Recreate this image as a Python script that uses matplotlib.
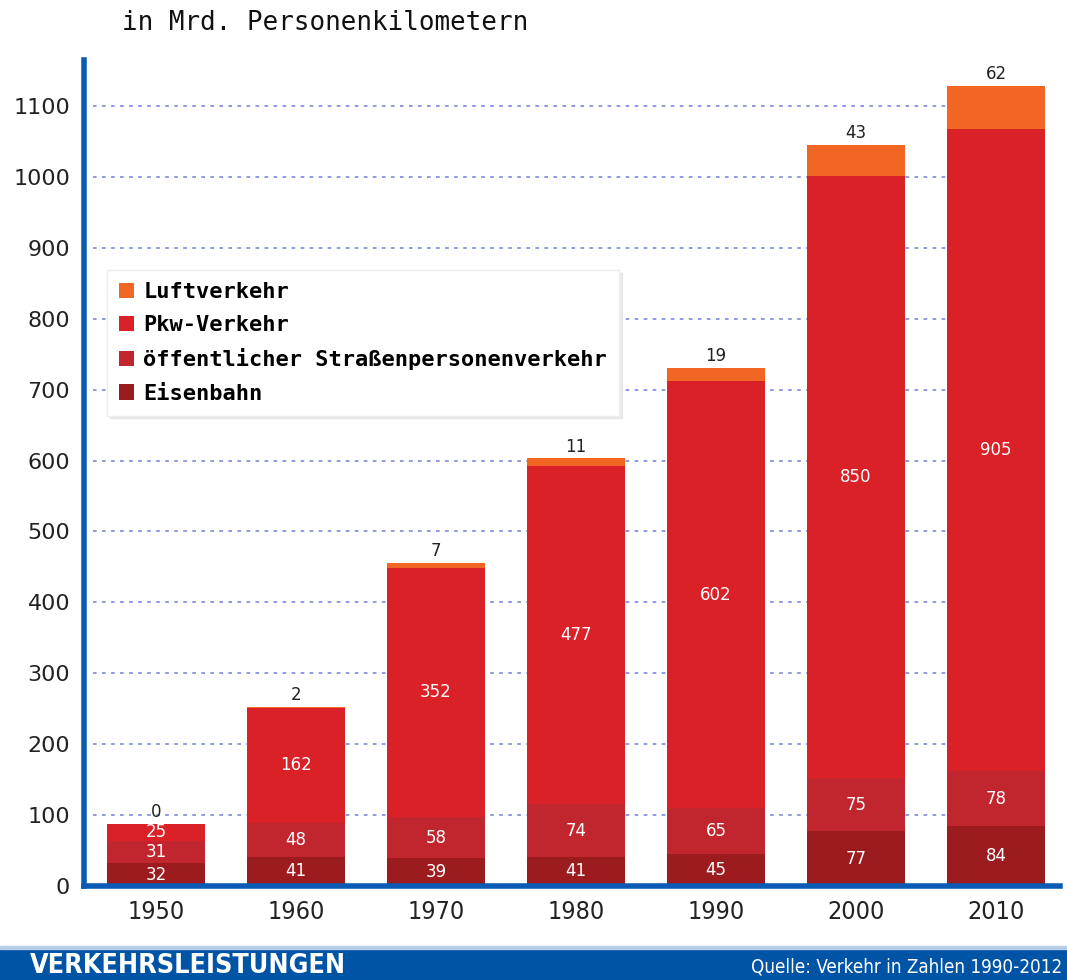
import matplotlib
matplotlib.use("Agg")
import matplotlib.pyplot as plt
from matplotlib.patches import Rectangle
import numpy as np

years = ["1950", "1960", "1970", "1980", "1990", "2000", "2010"]
eisenbahn = [32, 41, 39, 41, 45, 77, 84]
oespv = [31, 48, 58, 74, 65, 75, 78]
pkw = [25, 162, 352, 477, 602, 850, 905]
luft = [0, 2, 7, 11, 19, 43, 62]
series_names = ["Eisenbahn", "öffentlicher Straßenpersonenverkehr", "Pkw-Verkehr", "Luftverkehr"]
colors = ["#9b1b1f", "#c1262e", "#da2128", "#f26624"]
yticks = [0, 100, 200, 300, 400, 500, 600, 700, 800, 900, 1000, 1100]

W, H = 1067, 980
fig = plt.figure(figsize=(W / 100, H / 100), dpi=100)
ax = fig.add_axes([84 / W, (980 - 886) / H, (1060 - 84) / W, (886 - 60) / H])

x = np.arange(len(years))
width = 0.7
bottom = np.zeros(len(years))
bars = []
data = [eisenbahn, oespv, pkw, luft]
for i, (vals, col) in enumerate(zip(data, colors)):
    b = ax.bar(x, vals, width, bottom=bottom, color=col, zorder=2, label=series_names[i])
    bars.append(b)
    for xi, v, bt in zip(x, vals, bottom):
        if i < 3:
            ax.text(xi, bt + v / 2, str(v), ha="center", va="center", color="white",
                    fontsize=12, zorder=3)
        else:
            ax.text(xi, bt + v + 4, str(v), ha="center", va="bottom", color="#222222",
                    fontsize=12, zorder=3)
    bottom = bottom + np.array(vals)

ax.set_xlim(-0.514, 6.457)
ax.set_ylim(0, 1165)
ax.set_yticks(yticks)
ax.set_yticklabels([str(t) for t in yticks])
ax.set_xticks(x)
ax.set_xticklabels(years)
ax.tick_params(axis="both", length=0, labelsize=16, colors="#222222")
ax.tick_params(axis="y", pad=10)
ax.tick_params(axis="x", pad=10)
for lab in ax.get_xticklabels():
    lab.set_fontstretch("condensed")
    lab.set_fontsize(18)

for t in yticks[1:]:
    ax.plot([-0.45, 6.35], [t, t], linestyle=(0, (2, 3)), color="#8393dd", lw=1.3, zorder=1)

for s in ["top", "right"]:
    ax.spines[s].set_visible(False)
ax.spines["left"].set_color("#0b5bb5")
ax.spines["left"].set_linewidth(4)
ax.spines["bottom"].set_color("#0b5bb5")
ax.spines["bottom"].set_linewidth(4)

handles = [bars[3], bars[2], bars[1], bars[0]]
labels = [series_names[3], series_names[2], series_names[1], series_names[0]]
leg = ax.legend(handles, labels, loc="upper left", bbox_to_anchor=(107 / W, (980 - 270) / H),
                bbox_transform=fig.transFigure, borderaxespad=0,
                prop={"family": "DejaVu Sans Mono", "weight": "bold", "size": 15.8},
                handlelength=0.7, handleheight=0.7, handletextpad=0.4,
                labelspacing=0.6, borderpad=0.55, frameon=True, fancybox=False,
                shadow={"color": "#d8d8d8"}, framealpha=1, edgecolor="#eeeeee")
leg.set_zorder(5)

fig.text(122 / W, 1 - 23 / H, "in Mrd. Personenkilometern", family="DejaVu Sans Mono",
         fontsize=18.6, va="center", ha="left", color="#111111")

fig.patches.append(Rectangle((0, 0), 1, 31 / H, transform=fig.transFigure,
                             color="#0054a6", zorder=0))
fig.patches.append(Rectangle((0, 31 / H), 1, 3 / H, transform=fig.transFigure,
                             color="#b9cde6", zorder=0))
fig.text(30 / W, 14 / H, "VERKEHRSLEISTUNGEN", family="DejaVu Sans", fontstretch="condensed",
         weight="bold", fontsize=19.3, color="white", va="center", ha="left")
fig.text(1062 / W, 13 / H, "Quelle: Verkehr in Zahlen 1990-2012",
         family="DejaVu Sans", fontstretch="condensed", fontsize=13.5, color="white",
         va="center", ha="right")

fig.savefig("out.png", dpi=100)
